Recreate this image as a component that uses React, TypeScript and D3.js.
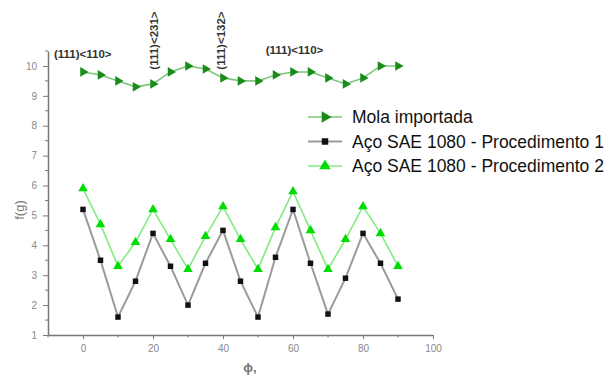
import React, { useEffect, useRef } from 'react';
import * as d3 from 'd3';

const angles = [0, 5, 10, 15, 20, 25, 30, 35, 40, 45, 50, 55, 60, 65, 70, 75, 80, 85, 90];
const mola = [9.8, 9.7, 9.5, 9.3, 9.4, 9.8, 10.0, 9.9, 9.6, 9.5, 9.5, 9.7, 9.8, 9.8, 9.6, 9.4, 9.6, 10.0, 10.0];
const proc1 = [5.2, 3.5, 1.6, 2.8, 4.4, 3.3, 2.0, 3.4, 4.5, 2.8, 1.6, 3.6, 5.2, 3.4, 1.7, 2.9, 4.4, 3.4, 2.2];
const proc2 = [5.9, 4.7, 3.3, 4.1, 5.2, 4.2, 3.2, 4.3, 5.3, 4.2, 3.2, 4.6, 5.8, 4.5, 3.2, 4.2, 5.3, 4.4, 3.3];
const seriesNames = ['Mola importada', 'Aço SAE 1080 - Procedimento 1', 'Aço SAE 1080 - Procedimento 2'];
const xTicks = [0, 20, 40, 60, 80, 100];
const yTicks = [1, 2, 3, 4, 5, 6, 7, 8, 9, 10];
const notes = [
  { text: '(111)<110>', x: -10, y: 10.4, rot: false },
  { text: '(111)<231>', x: 21.3, y: 10.85, rot: true },
  { text: '(111)<132>', x: 40.5, y: 10.85, rot: true },
  { text: '(111)<110>', x: 50.5, y: 10.55, rot: false },
];

export default function App() {
  const ref = useRef<SVGSVGElement>(null);
  useEffect(() => {
    const svg = d3.select(ref.current);
    svg.selectAll('*').remove();
    const x = d3.scaleLinear().domain([-10, 100]).range([48, 433]);
    const y = d3.scaleLinear().domain([1, 10.5]).range([335, 51]);
    const axisColor = '#777';
    const font = 'Liberation Sans, Arial, sans-serif';

    // axes
    const xa = svg.append('g').attr('transform', 'translate(0,335)')
      .call(d3.axisBottom(x).tickValues(xTicks).tickSize(4).tickSizeOuter(0).tickPadding(6));
    xa.append('g').selectAll('line').data([-10, 10, 30, 50, 70, 90]).enter().append('line')
      .attr('x1', d => x(d)).attr('x2', d => x(d)).attr('y1', 0).attr('y2', 2.5).attr('stroke', axisColor);
    const ya = svg.append('g').attr('transform', 'translate(48,0)')
      .call(d3.axisLeft(y).tickValues(yTicks).tickSize(5).tickSizeOuter(0).tickPadding(6));
    ya.append('g').selectAll('line').data(d3.range(1.5, 10.6, 1)).enter().append('line')
      .attr('y1', d => y(d)).attr('y2', d => y(d)).attr('x1', 0).attr('x2', -3).attr('stroke', axisColor);
    [xa, ya].forEach(a => {
      a.select('.domain').attr('stroke', axisColor).attr('stroke-width', 1.5);
      a.selectAll('.tick line').attr('stroke', axisColor);
      a.selectAll('.tick text').attr('fill', '#888').attr('font-size', 10).attr('font-family', font);
    });

    svg.append('text').attr('transform', 'translate(24,210) rotate(-90)')
      .attr('text-anchor', 'middle').attr('fill', '#777').attr('font-size', 13).attr('font-family', font)
      .text('f(g)');
    svg.append('text').attr('x', 250).attr('y', 372).attr('text-anchor', 'middle')
      .attr('fill', '#777').attr('font-size', 13).attr('font-weight', 'bold').attr('font-family', font).text('ϕ,');

    // series
    const series = [
      { vals: mola, line: '#7cc77c', mark: '#1a8c1a', shape: 'right', width: 1.6 },
      { vals: proc1, line: '#9a9a9a', mark: '#111', shape: 'square', width: 2 },
      { vals: proc2, line: '#80ec80', mark: '#00dd00', shape: 'up', width: 1.6 },
    ];
    const drawMark = (g: any, s: any, px: number, py: number, k = 1) => {
      if (s.shape === 'square') {
        g.append('path').attr('d', d3.symbol().type(d3.symbolSquare).size(30 * k)())
          .attr('transform', `translate(${px},${py})`).attr('fill', s.mark);
      } else {
        const rot = s.shape === 'right' ? 90 : 0;
        g.append('path').attr('d', d3.symbol().type(d3.symbolTriangle).size(40 * k)())
          .attr('transform', `translate(${px},${py}) rotate(${rot})`).attr('fill', s.mark);
      }
    };
    series.forEach(s => {
      const line = d3.line<number>().x((_, i) => x(angles[i])).y(d => y(d));
      svg.append('path').datum(s.vals).attr('d', line).attr('fill', 'none')
        .attr('stroke', s.line).attr('stroke-width', s.width);
      const g = svg.append('g');
      s.vals.forEach((v, i) => drawMark(g, s, x(angles[i]), y(v)));
    });

    // annotations
    notes.forEach(n => {
      const t = svg.append('text').attr('fill', '#333').attr('font-size', 11.5).attr('font-weight', 600)
        .attr('font-family', font).text(n.text);
      if (n.rot) {
        t.attr('transform', `translate(${x(n.x)},${y(n.y)}) rotate(-90)`).attr('text-anchor', 'middle');
      } else {
        t.attr('x', x(n.x) + 6).attr('y', y(n.y) + 4);
      }
    });

    // legend
    const lg = svg.append('g');
    series.forEach((s, i) => {
      const ly = 117 + i * 24.5;
      lg.append('line').attr('x1', 308).attr('x2', 342).attr('y1', ly).attr('y2', ly)
        .attr('stroke', s.line).attr('stroke-width', s.width);
      drawMark(lg, s, 325, ly, 1.4);
      lg.append('text').attr('x', 352).attr('y', ly + 6).attr('font-size', 17.5).attr('fill', '#111')
        .attr('font-family', font).text(seriesNames[i]);
    });
  }, []);
  return (
    <svg ref={ref} width={611} height={376}
      style={{ position: 'absolute', left: 0, top: 0, background: '#fff', display: 'block' }} />
  );
}
